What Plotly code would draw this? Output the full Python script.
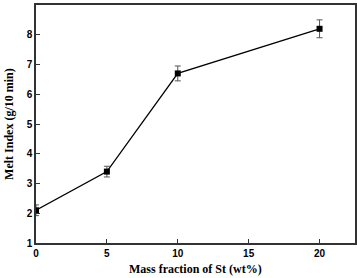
import plotly.graph_objects as go

x_vals = [0, 5, 10, 20]
melt_index = [2.1, 3.4, 6.7, 8.2]
err = [0.18, 0.18, 0.25, 0.3]
x_ticks = [0, 5, 10, 15, 20]
y_ticks = [1, 2, 3, 4, 5, 6, 7, 8, 9]

fig = go.Figure()
fig.add_trace(go.Scatter(
    x=x_vals, y=melt_index, mode="lines+markers",
    line=dict(color="black", width=1.3),
    marker=dict(symbol="square", size=6, color="black"),
    error_y=dict(type="data", array=err, color="#555", thickness=1, width=3),
    cliponaxis=True,
))
fig.update_layout(
    width=357, height=278,
    margin=dict(l=36, r=2, t=5, b=35),
    paper_bgcolor="white", plot_bgcolor="white",
    showlegend=False,
)
axis_common = dict(
    showgrid=False, zeroline=False, showline=True, linecolor="#333", linewidth=1.5,
    mirror=True, ticks="inside", ticklen=4, tickcolor="#333", automargin=False,
    tickfont=dict(family="Liberation Sans", size=10, color="black", weight="bold"),
)
fig.update_xaxes(range=[0, 22.5], tickvals=x_ticks, ticklabelstandoff=0, **axis_common)
fig.update_yaxes(range=[1, 9], tickvals=y_ticks, **axis_common)
title_font = dict(family="Liberation Serif", size=12, color="black", weight="bold")
fig.add_annotation(text="Mass fraction of St (wt%)", xref="paper", yref="paper",
                   x=0.5, y=-0.072, xanchor="center", yanchor="top",
                   showarrow=False, font=title_font)
fig.add_annotation(text="Melt Index (g/10 min)", xref="paper", yref="paper",
                   x=-0.085, y=0.5, xanchor="center", yanchor="middle", textangle=-90,
                   showarrow=False, font=title_font)
fig.write_html("out.html", config={"displayModeBar": False},
               post_script="document.body.style.margin='0';document.body.style.overflow='hidden';")
